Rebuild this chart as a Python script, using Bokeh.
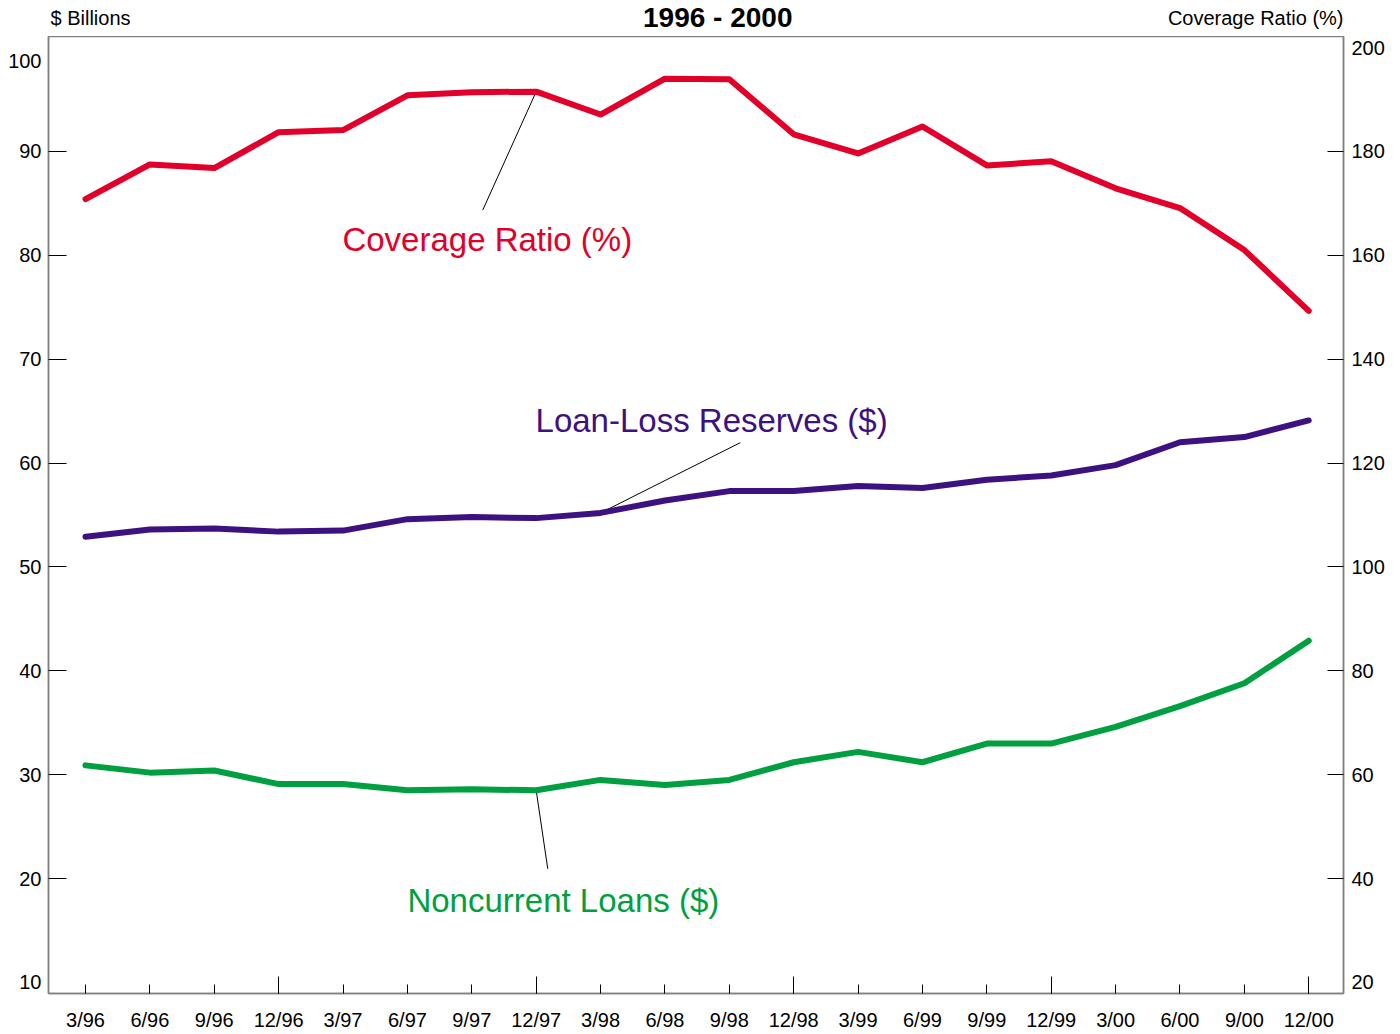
from bokeh.plotting import figure
from bokeh.models import Range1d, LinearAxis, FixedTicker, Label
from bokeh.layouts import column
from bokeh.embed import file_html
from bokeh.resources import INLINE

# ---------------- data ----------------
quarters = ["3/96", "6/96", "9/96", "12/96", "3/97", "6/97", "9/97", "12/97",
            "3/98", "6/98", "9/98", "12/98", "3/99", "6/99", "9/99", "12/99",
            "3/00", "6/00", "9/00", "12/00"]
coverage_ratio = [170.8, 177.5, 176.8, 183.7, 184.1, 190.8, 191.4, 191.5,
                  187.1, 194.0, 193.9, 183.3, 179.6, 184.8, 177.3, 178.1,
                  172.9, 169.1, 161.0, 149.3]
loan_loss_reserves = [52.9, 53.6, 53.7, 53.4, 53.5, 54.6, 54.8, 54.7,
                      55.2, 56.4, 57.3, 57.3, 57.8, 57.6, 58.4, 58.8,
                      59.8, 62.0, 62.5, 64.1]
noncurrent_loans = [30.9, 30.2, 30.4, 29.1, 29.1, 28.5, 28.6, 28.5,
                    29.5, 29.0, 29.5, 31.2, 32.2, 31.2, 33.0, 33.0,
                    34.6, 36.6, 38.8, 42.9]
left_labels = [10, 20, 30, 40, 50, 60, 70, 80, 90, 100]
left_tick_marks = [20, 30, 40, 50, 60, 70, 80, 90]
right_labels = [20, 40, 60, 80, 100, 120, 140, 160, 180, 200]
right_tick_marks = [40, 60, 80, 100, 120, 140, 160, 180]
year_end_idx = [3, 7, 11, 15, 19]

x = list(range(len(quarters)))

RED = "#E2002A"
PURPLE = "#3D1180"
GREEN = "#00A040"
FONT = "Liberation Sans"

W = 1390
X0, X1 = -0.575, 19.54
Y0, Y1 = 8.94, 101.06

# ---------------- header (title and scale captions) ----------------
head = figure(width=W, height=36, output_backend="svg", toolbar_location=None,
              x_range=Range1d(X0, X1), y_range=Range1d(0, 36),
              x_axis_location=None, y_axis_location=None,
              min_border_left=48, min_border_right=47, min_border_top=0, min_border_bottom=0)
head.outline_line_color = None
head.grid.visible = False
head.add_layout(Label(x=9.82, y=19.5, text="1996 - 2000", text_align="center",
                      text_baseline="alphabetic", text_font=FONT, text_font_size="28px",
                      text_font_style="bold", text_color="black"))
head.add_layout(Label(x=-0.544, y=18.5, text="$ Billions", text_align="left",
                      text_baseline="alphabetic", text_font=FONT,
                      text_font_size="20px", text_color="black"))
head.add_layout(Label(x=X1, y=18.5, text="Coverage Ratio (%)", text_align="right",
                      text_baseline="alphabetic", text_font=FONT,
                      text_font_size="20px", text_color="black"))

# ---------------- main chart ----------------
p = figure(width=W, height=997, output_backend="svg", toolbar_location=None,
           x_range=Range1d(X0, X1), y_range=Range1d(Y0, Y1),
           x_axis_location=None, y_axis_location=None,
           min_border_left=48, min_border_right=47, min_border_top=0, min_border_bottom=38)
p.extra_y_ranges = {"right": Range1d(2 * Y0, 2 * Y1)}
p.outline_line_color = "#808080"
p.outline_line_width = 1.5
p.background_fill_color = "white"
p.border_fill_color = "white"
p.grid.visible = False

def style(ax):
    ax.axis_line_color = "#808080"
    ax.axis_line_width = 1.5
    ax.major_tick_line_color = "black"
    ax.minor_tick_line_color = "black"
    ax.major_tick_out = 0
    ax.minor_tick_out = 0
    ax.major_label_text_font = FONT
    ax.major_label_text_font_size = "20px"
    ax.major_label_text_color = "black"

left = LinearAxis(ticker=FixedTicker(ticks=left_labels, minor_ticks=left_tick_marks),
                  major_label_overrides={100: "\n100"})
style(left)
left.major_label_text_line_height = 0.6
left.major_tick_in = 0
left.minor_tick_in = 18
left.major_label_standoff = 7
p.add_layout(left, "left")

right = LinearAxis(y_range_name="right",
                   ticker=FixedTicker(ticks=right_labels, minor_ticks=right_tick_marks))
style(right)
right.major_tick_in = 0
right.minor_tick_in = 16
right.major_label_standoff = 8
p.add_layout(right, "right")

bottom = LinearAxis(ticker=FixedTicker(ticks=x, minor_ticks=year_end_idx),
                    major_label_overrides={i: q for i, q in zip(x, quarters)})
style(bottom)
bottom.major_tick_in = 9
bottom.minor_tick_in = 17
bottom.major_label_standoff = 15
p.add_layout(bottom, "below")

for g in (p.xgrid, p.ygrid):
    g.grid_line_color = None

# leader lines (from a data point to the label anchor)
p.segment(x0=[x[7]], y0=[coverage_ratio[7]], x1=[6.17], y1=[168.7],
          y_range_name="right", line_color="black", line_width=1)
p.segment(x0=[x[8]], y0=[loan_loss_reserves[8]], x1=[10.17], y1=[61.96],
          line_color="black", line_width=1)
p.segment(x0=[x[7]], y0=[noncurrent_loans[7]], x1=[7.18], y1=[20.94],
          line_color="black", line_width=1)

p.line(x, coverage_ratio, y_range_name="right", line_color=RED, line_width=6,
       line_join="round", line_cap="round")
p.line(x, loan_loss_reserves, line_color=PURPLE, line_width=6,
       line_join="round", line_cap="round")
p.line(x, noncurrent_loans, line_color=GREEN, line_width=6,
       line_join="round", line_cap="round")

p.add_layout(Label(x=3.99, y=163.1, y_range_name="right", text="Coverage Ratio (%)",
                   text_color=RED, text_font=FONT, text_font_size="33px",
                   text_baseline="alphabetic"))
p.add_layout(Label(x=6.99, y=64.1, text="Loan-Loss Reserves ($)",
                   text_color=PURPLE, text_font=FONT, text_font_size="33px",
                   text_baseline="alphabetic"))
p.add_layout(Label(x=5.0, y=17.9, text="Noncurrent Loans ($)",
                   text_color=GREEN, text_font=FONT, text_font_size="33px",
                   text_baseline="alphabetic"))

layout = column(head, p, spacing=0)
open("out.html", "w").write(file_html(layout, INLINE))
